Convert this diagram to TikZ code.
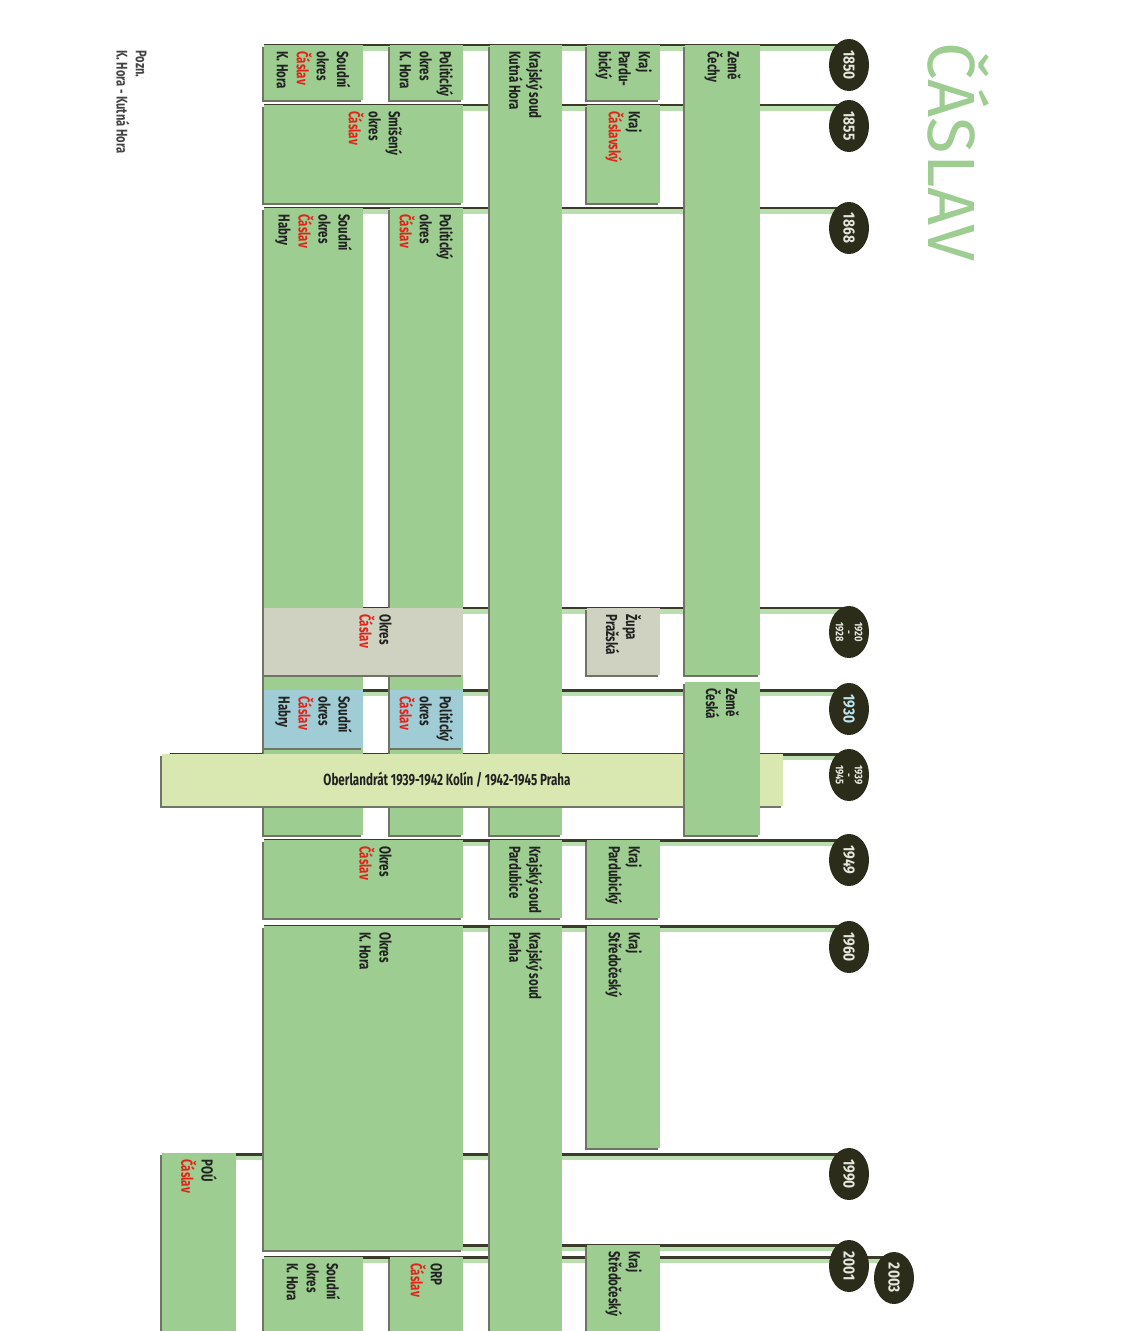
\documentclass[tikz,border=0pt]{standalone}
\usepackage{fontspec}
\setmainfont{Fira Sans}
\newfontfamily\condfont{Fira Sans}[FakeStretch=0.72]
\newfontfamily\yearfont{Fira Sans}[FakeStretch=0.85]
\usepackage{xcolor}
\usepackage{tikz}
\usetikzlibrary{positioning,shapes.geometric,fit,calc}
\definecolor{BoxGreen}{HTML}{9DCD91}
\definecolor{EdgeGray}{HTML}{6F7464}
\definecolor{ZupaGray}{HTML}{CFD2C1}
\definecolor{HabryBlue}{HTML}{A0CDD5}
\definecolor{BandYellow}{HTML}{D9E8B0}
\definecolor{LineDark}{HTML}{3A3B28}
\definecolor{LineGlow}{HTML}{B9DFAE}
\definecolor{BallDark}{HTML}{2B2D1A}
\definecolor{NameRed}{HTML}{E2231A}
\definecolor{TextDark}{HTML}{222222}
\definecolor{YearText}{HTML}{E6E6DC}
\definecolor{YearCyan}{HTML}{BDE5EE}
\pgfdeclarelayer{background}
\pgfsetlayers{background,main}
\newcommand{\mesto}[1]{\textcolor{NameRed}{#1}}
\tikzset{
  gbox/.style={fill=BoxGreen,inner sep=0pt,outer sep=0pt,
    preaction={fill=EdgeGray,transform canvas={xshift=-1pt,yshift=-1pt}}},
  graybox/.style={gbox,fill=ZupaGray},
  bluebox/.style={gbox,fill=HabryBlue},
  bandbox/.style={gbox,fill=BandYellow},
  lbl/.style={rotate=-90,anchor=west,align=left,inner sep=0pt,
    font=\fontsize{9.1}{11.4}\selectfont\condfont\bfseries,text=TextDark},
  bandlbl/.style={inner sep=0pt,
    font=\fontsize{9.2}{11}\selectfont\condfont\bfseries,text=TextDark},
  yearball/.style={ellipse,rotate=-90,fill=BallDark,inner sep=0pt,
    minimum width=1.04cm,minimum height=0.8cm,
    font=\fontsize{9.2}{10}\selectfont\yearfont\bfseries,text=YearText},
  smallyear/.style={yearball,align=center,
    font=\fontsize{6.3}{5.4}\selectfont\yearfont\bfseries},
  yline/.style={draw=LineDark,line width=1.7pt,
    preaction={draw=LineGlow,line width=3pt,transform canvas={yshift=-1.7pt}}},
  titul/.style={rotate=-90,inner sep=0pt,text=BoxGreen,
    font=\fontsize{38}{40}\selectfont},
  pozn/.style={rotate=-90,anchor=north west,align=left,inner sep=0pt,
    font=\fontsize{8.8}{11}\selectfont\condfont\bfseries,text=TextDark!85},
}
\begin{document}
\begin{tikzpicture}[x=0.02cm,y=-0.02cm]
  \useasboundingbox (0,0) rectangle (1126,1331);
  % title and note
  \node[titul] (nazev) at (958,152) {ČÁSLAV};
  \node[pozn] (poznamka) at (147,50) {Pozn.\\K. Hora - Kutná Hora};

  % zeme
  \node[gbox,fit={(685,45) (760,675)}] (zcechy) {};
  \node[lbl] (zcechyT) at ($(zcechy.north)+(0,6)$) {Země\\Čechy};

  % kraj
  \node[gbox,fit={(587,45) (660,100)}] (kpardu) {};
  \node[lbl] (kparduT) at ($(kpardu.north)+(0,6)$) {Kraj\\Pardu-\\bický};
  \node[gbox,fit={(587,105) (660,203)}] (kcaslav) {};
  \node[lbl] (kcaslavT) at ($(kcaslav.north)+(0,6)$) {Kraj\\\mesto{Čáslavský}};
  \node[graybox,fit={(587,608) (660,675)}] (zupa) {};
  \node[lbl] (zupaT) at ($(zupa.north)+(0,6)$) {Župa\\Pražská};
  \node[gbox,fit={(587,840) (660,918)}] (kpardu2) {};
  \node[lbl] (kpardu2T) at ($(kpardu2.north)+(0,6)$) {Kraj\\Pardubický};
  \node[gbox,fit={(587,926) (660,1148)}] (kstred) {};
  \node[lbl] (kstredT) at ($(kstred.north)+(0,6)$) {Kraj\\Středočeský};
  \node[gbox,fit={(587,1245) (660,1331)}] (kstred2) {};
  \node[lbl] (kstred2T) at ($(kstred2.north)+(0,6)$) {Kraj\\Středočeský};

  % krajsky soud
  \node[gbox,fit={(490,45) (562,835)}] (ksoudkh) {};
  \node[lbl] (ksoudkhT) at ($(ksoudkh.north)+(0,6)$) {Krajský soud\\Kutná Hora};
  \node[gbox,fit={(490,840) (562,918)}] (ksoudpa) {};
  \node[lbl] (ksoudpaT) at ($(ksoudpa.north)+(0,6)$) {Krajský soud\\Pardubice};
  \node[gbox,fit={(490,926) (562,1331)}] (ksoudpr) {};
  \node[lbl] (ksoudprT) at ($(ksoudpr.north)+(0,6)$) {Krajský soud\\Praha};

  % politicky a soudni okres
  \node[gbox,fit={(390,45) (463,100)}] (pokh) {};
  \node[lbl] (pokhT) at ($(pokh.north)+(0,6)$) {Politický\\okres\\K. Hora};
  \node[gbox,fit={(264,45) (363,100)}] (sokh) {};
  \node[lbl] (sokhT) at ($(sokh.north)+(0,6)$) {Soudní\\okres\\\mesto{Čáslav}\\K. Hora};
  \node[gbox,fit={(264,105) (463,203)}] (smis) {};
  \node[lbl] (smisT) at ($(smis.north)+(12,6)$) {Smíšený\\okres\\\mesto{Čáslav}};
  \node[gbox,fit={(390,208) (463,835)}] (poca) {};
  \node[lbl] (pocaT) at ($(poca.north)+(0,6)$) {Politický\\okres\\\mesto{Čáslav}};
  \node[gbox,fit={(264,208) (363,835)}] (soca) {};
  \node[lbl] (socaT) at ($(soca.north)+(0,6)$) {Soudní\\okres\\\mesto{Čáslav}\\Habry};
  \node[graybox,fit={(264,608) (463,675)}] (okca) {};
  \node[lbl] (okcaT) at ($(okca.north)+(12,6)$) {Okres\\\mesto{Čáslav}};
  \node[bluebox,fit={(390,690) (463,748)}] (pocab) {};
  \node[lbl] (pocabT) at ($(pocab.north)+(0,6)$) {Politický\\okres\\\mesto{Čáslav}};
  \node[bluebox,fit={(264,690) (363,748)}] (socab) {};
  \node[lbl] (socabT) at ($(socab.north)+(0,6)$) {Soudní\\okres\\\mesto{Čáslav}\\Habry};

  % oberlandrat
  \node[bandbox,fit={(162,754) (783,806)}] (ober) {};
  \node[bandlbl] (oberT) at (447,780) {Oberlandrát 1939-1942 Kolín / 1942-1945 Praha};
  \node[gbox,fit={(685,682) (760,835)}] (zceska) {};
  \node[lbl] (zceskaT) at ($(zceska.north)+(0,6)$) {Země\\Česká};

  % po roce 1949
  \node[gbox,fit={(264,840) (463,918)}] (okca2) {};
  \node[lbl] (okca2T) at ($(okca2.north)+(12,6)$) {Okres\\\mesto{Čáslav}};
  \node[gbox,fit={(264,926) (463,1250)}] (okkh) {};
  \node[lbl] (okkhT) at ($(okkh.north)+(12,6)$) {Okres\\K. Hora};
  \node[gbox,fit={(390,1257) (463,1331)}] (orp) {};
  \node[lbl] (orpT) at ($(orp.north)+(0,6)$) {ORP\\\mesto{Čáslav}};
  \node[gbox,fit={(264,1257) (363,1331)}] (sokh2) {};
  \node[lbl] (sokh2T) at ($(sokh2.north)+(0,6)$) {Soudní\\okres\\K. Hora};
  \node[gbox,fit={(162,1153) (236,1331)}] (pou) {};
  \node[lbl] (pouT) at ($(pou.north)+(0,6)$) {POÚ\\\mesto{Čáslav}};

  % roky
  \node[yearball] (y1850) at (849,65) {1850};
  \node[yearball] (y1855) at (849,126) {1855};
  \node[yearball] (y1868) at (849,228) {1868};
  \node[smallyear] (y1920) at (849,632) {1920\\-\\1928};
  \node[yearball,text=YearCyan] (y1930) at (849,709) {1930};
  \node[smallyear] (y1939) at (849,775) {1939\\-\\1945};
  \node[yearball] (y1949) at (849,860) {1949};
  \node[yearball] (y1960) at (849,947) {1960};
  \node[yearball] (y1990) at (849,1174) {1990};
  \node[yearball] (y2003) at (894,1278) {2003};
  \node[yearball] (y2001) at (849,1266) {2001};

  \coordinate (l1850) at (264,45);
  \coordinate (l1855) at (264,105);
  \coordinate (l1868) at (264,208);
  \coordinate (l1920) at (264,608);
  \coordinate (l1930) at (264,690);
  \coordinate (l1939) at (170,754);
  \coordinate (l1949) at (264,840);
  \coordinate (l1960) at (264,926);
  \coordinate (l1990) at (162,1154);
  \coordinate (l2001) at (264,1245);
  \coordinate (l2003) at (264,1257);

  \begin{pgfonlayer}{background}
    \draw[yline] (l1850) -- (l1850 -| y1850);
    \draw[yline] (l1855) -- (l1855 -| y1855);
    \draw[yline] (l1868) -- (l1868 -| y1868);
    \draw[yline] (l1920) -- (l1920 -| y1920);
    \draw[yline] (l1930) -- (l1930 -| y1930);
    \draw[yline] (l1939) -- (l1939 -| y1939);
    \draw[yline] (l1949) -- (l1949 -| y1949);
    \draw[yline] (l1960) -- (l1960 -| y1960);
    \draw[yline] (l1990) -- (l1990 -| y1990);
    \draw[yline] (l2001) -- (l2001 -| y2001);
    \draw[yline] (l2003) -- (l2003 -| y2003);
  \end{pgfonlayer}
\end{tikzpicture}
\end{document}
